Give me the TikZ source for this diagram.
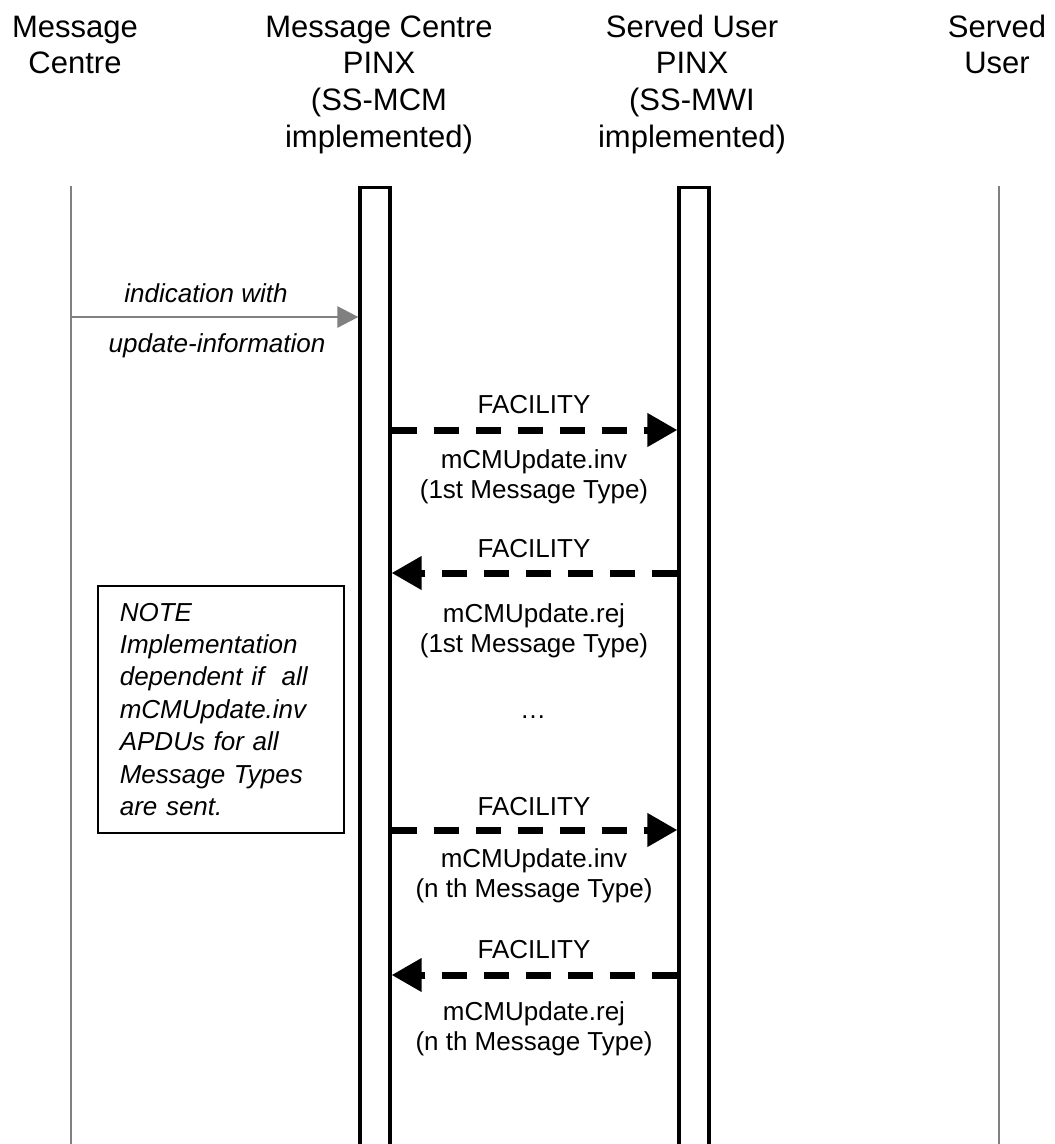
\documentclass[tikz,border=0pt]{standalone}
\usepackage{fontspec}
\setmainfont{Liberation Sans}
\usetikzlibrary{arrows.meta}
\definecolor{lifegray}{HTML}{808080}
\begin{document}
\begin{tikzpicture}[x=1pt,y=-1pt,
  hdr/.style={align=center, font=\fontsize{31}{36.7}\selectfont, anchor=base, inner sep=0},
  msg/.style={align=center, font=\fontsize{26}{30}\selectfont, anchor=base, inner sep=0},
  ital/.style={font=\fontsize{26}{30}\selectfont\itshape, anchor=base, inner sep=0},
  bar/.style={draw, line width=3.2pt, minimum width=30pt, minimum height=1000pt, anchor=north, inner sep=0, fill=white},
  life/.style={draw=lifegray, line width=2.6pt},
  req/.style={line width=7pt, dash pattern=on 25pt off 17pt, -{Triangle[length=30pt,width=32pt]}},
  notebox/.style={draw, line width=1.6pt, anchor=north west, text width=202pt, inner xsep=22pt, inner ysep=0pt, minimum height=247pt, align=left, font=\fontsize{26}{32.4}\selectfont\itshape},
]
\useasboundingbox (0,0) rectangle (1055,1144);

% headers (anchor base = baseline of last line)
\node[hdr] (h1) at (75,73.7) {Message\\Centre};
\node[hdr] (h2) at (379,147.1) {Message Centre\\PINX\\(SS-MCM\\implemented)};
\node[hdr] (h3) at (692,147.1) {Served User\\PINX\\(SS-MWI\\implemented)};
\node[hdr] (h4) at (997,73.7) {Served\\User};

% lifelines
\coordinate (mctop) at (71,186);
\coordinate (mcbot) at (71,1160);
\coordinate (sutop) at (999,186);
\coordinate (subot) at (999,1160);
\draw[life] (mctop) -- (mcbot);
\draw[life] (sutop) -- (subot);
\node[bar] (mcbar) at (375,186) {};
\node[bar] (subar) at (694,186) {};

% message y levels
\coordinate (y0) at (0,317);
\coordinate (a1) at (0,430);
\coordinate (a2) at (0,573);
\coordinate (a3) at (0,830);
\coordinate (a4) at (0,975);

% indication
\draw[draw=lifegray, line width=2.6pt, -{Triangle[length=21pt,width=21pt]}] (mctop |- y0) -- (mcbar.west |- y0);
\node[ital] (ind1) at (206,302) {indication with};
\node[ital] (ind2) at (217,352) {update-information};

% FACILITY messages
\draw[req] (mcbar.east |- a1) -- (subar.west |- a1);
\node[msg] (f1) at (534,413) {FACILITY};
\node[msg] (l1) at (534,498) {mCMUpdate.inv\\(1st Message Type)};

\draw[req] (subar.west |- a2) -- (mcbar.east |- a2);
\node[msg] (f2) at (534,557) {FACILITY};
\node[msg] (l2) at (534,652) {mCMUpdate.rej\\(1st Message Type)};

\node[msg] (dots) at (533,718) {…};

\draw[req] (mcbar.east |- a3) -- (subar.west |- a3);
\node[msg] (f3) at (534,815) {FACILITY};
\node[msg] (l3) at (534,897) {mCMUpdate.inv\\(n th Message Type)};

\draw[req] (subar.west |- a4) -- (mcbar.east |- a4);
\node[msg] (f4) at (534,958) {FACILITY};
\node[msg] (l4) at (534,1050) {mCMUpdate.rej\\(n th Message Type)};

% note
\node[notebox] (note) at (97,585) {NOTE\\Implementation\\dependent if\ \ all\\mCMUpdate.inv\\APDUs for all\\Message Types\\are sent.};
\end{tikzpicture}
\end{document}
